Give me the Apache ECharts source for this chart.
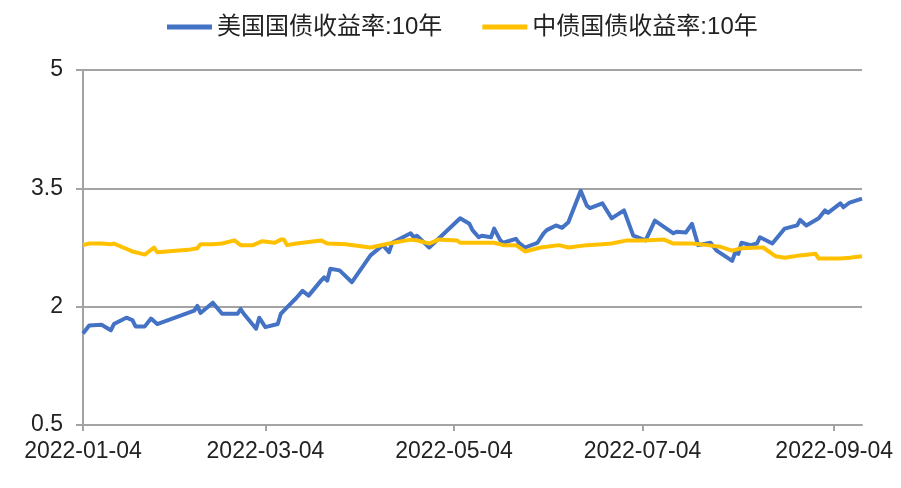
<!DOCTYPE html>
<html>
<head>
<meta charset="utf-8">
<script src="https://cdn.jsdelivr.net/npm/echarts@6/dist/echarts.min.js"></script>
<style>html,body{margin:0;padding:0;background:#fff}#c{width:901px;height:488px}</style>
</head>
<body>
<div id="c"></div>
<script>
var seriesNames = ['美国国债收益率:10年', '中债国债收益率:10年'];
var xTickLabels = ['2022-01-04', '2022-03-04', '2022-05-04', '2022-07-04', '2022-09-04'];
var yTicks = [0.5, 2, 3.5, 5];
var startDate = '2022-01-04';
var endDate = '2022-09-13';

var usDates = ['2022-01-04','2022-01-06','2022-01-10','2022-01-13','2022-01-14','2022-01-18','2022-01-20','2022-01-21','2022-01-24','2022-01-26','2022-01-28','2022-02-09','2022-02-10','2022-02-11','2022-02-15','2022-02-18','2022-02-23','2022-02-24','2022-02-25','2022-03-01','2022-03-02','2022-03-04','2022-03-08','2022-03-09','2022-03-11','2022-03-14','2022-03-16','2022-03-18','2022-03-22','2022-03-23','2022-03-24','2022-03-25','2022-03-28','2022-04-01','2022-04-07','2022-04-11','2022-04-13','2022-04-14','2022-04-20','2022-04-21','2022-04-22','2022-04-26','2022-04-29','2022-05-06','2022-05-09','2022-05-10','2022-05-12','2022-05-13','2022-05-16','2022-05-17','2022-05-19','2022-05-20','2022-05-24','2022-05-25','2022-05-27','2022-05-31','2022-06-02','2022-06-03','2022-06-06','2022-06-08','2022-06-10','2022-06-14','2022-06-16','2022-06-17','2022-06-21','2022-06-24','2022-06-28','2022-07-01','2022-07-05','2022-07-08','2022-07-14','2022-07-15','2022-07-18','2022-07-20','2022-07-22','2022-07-26','2022-07-28','2022-08-02','2022-08-03','2022-08-04','2022-08-05','2022-08-08','2022-08-10','2022-08-11','2022-08-15','2022-08-19','2022-08-23','2022-08-24','2022-08-26','2022-08-30','2022-09-01','2022-09-02','2022-09-06','2022-09-07','2022-09-09','2022-09-13'];
var usValues = [1.66,1.76,1.77,1.70,1.78,1.86,1.83,1.75,1.75,1.85,1.78,1.95,2.01,1.92,2.05,1.91,1.91,1.97,1.91,1.72,1.86,1.74,1.78,1.91,1.99,2.11,2.20,2.14,2.33,2.37,2.33,2.48,2.46,2.31,2.65,2.78,2.69,2.81,2.93,2.88,2.90,2.75,2.86,3.12,3.05,2.97,2.88,2.90,2.88,2.99,2.84,2.81,2.86,2.81,2.75,2.81,2.93,2.97,3.03,3.00,3.07,3.47,3.28,3.25,3.31,3.12,3.22,2.90,2.84,3.09,2.93,2.95,2.94,3.05,2.78,2.81,2.71,2.58,2.69,2.67,2.81,2.78,2.80,2.88,2.80,2.99,3.03,3.10,3.03,3.12,3.22,3.19,3.31,3.26,3.32,3.37];

var cnDates = ['2022-01-04','2022-01-06','2022-01-10','2022-01-13','2022-01-14','2022-01-17','2022-01-20','2022-01-24','2022-01-27','2022-01-28','2022-02-07','2022-02-10','2022-02-11','2022-02-15','2022-02-18','2022-02-22','2022-02-24','2022-02-28','2022-03-03','2022-03-07','2022-03-09','2022-03-10','2022-03-11','2022-03-14','2022-03-16','2022-03-22','2022-03-24','2022-03-30','2022-04-07','2022-04-13','2022-04-20','2022-04-22','2022-04-26','2022-04-29','2022-05-05','2022-05-06','2022-05-12','2022-05-17','2022-05-20','2022-05-24','2022-05-27','2022-06-01','2022-06-07','2022-06-10','2022-06-16','2022-06-21','2022-06-24','2022-06-29','2022-07-04','2022-07-11','2022-07-14','2022-07-20','2022-07-25','2022-07-29','2022-08-02','2022-08-05','2022-08-11','2022-08-12','2022-08-16','2022-08-19','2022-08-24','2022-08-29','2022-08-30','2022-09-02','2022-09-06','2022-09-09','2022-09-13'];
var cnValues = [2.78,2.80,2.80,2.79,2.80,2.75,2.70,2.66,2.75,2.69,2.72,2.74,2.79,2.79,2.80,2.84,2.78,2.78,2.83,2.81,2.85,2.85,2.78,2.80,2.81,2.84,2.80,2.79,2.75,2.80,2.85,2.84,2.80,2.85,2.84,2.81,2.81,2.81,2.78,2.78,2.70,2.75,2.78,2.75,2.78,2.79,2.80,2.84,2.84,2.85,2.80,2.80,2.78,2.76,2.71,2.74,2.75,2.75,2.64,2.62,2.65,2.67,2.61,2.61,2.61,2.62,2.64];

function fmt(d) {
  var m = d.getUTCMonth() + 1, day = d.getUTCDate();
  return d.getUTCFullYear() + '-' + (m < 10 ? '0' : '') + m + '-' + (day < 10 ? '0' : '') + day;
}
var categories = [];
(function () {
  var p = startDate.split('-'), q = endDate.split('-');
  var t = Date.UTC(+p[0], +p[1] - 1, +p[2]), e = Date.UTC(+q[0], +q[1] - 1, +q[2]);
  for (; t <= e; t += 86400000) categories.push(fmt(new Date(t)));
})();
function pairs(dates, vals) {
  return dates.map(function (d, i) { return [categories.indexOf(d), vals[i]]; });
}

var FONT = "'Liberation Sans', Arial, 'Noto Sans CJK SC', sans-serif";
var GRAY = '#a3a3a3';
var chart = echarts.init(document.getElementById('c'), null, {renderer: 'canvas'});
chart.setOption({
  animation: false,
  backgroundColor: '#fff',
  color: ['#4472C4', '#FFC000'],
  legend: {
    top: 10,
    left: 162,
    itemWidth: 45,
    itemHeight: 5,
    itemGap: 40,
    icon: 'rect',
    textStyle: {fontFamily: FONT, fontSize: 24, color: '#222'},
    data: seriesNames
  },
  grid: {left: 83, right: 39, top: 70, bottom: 63, containLabel: false},
  xAxis: {
    type: 'category',
    data: categories,
    boundaryGap: false,
    axisLine: {show: true, lineStyle: {color: GRAY, width: 2}},
    axisTick: {
      show: true, length: 6, lineStyle: {color: GRAY, width: 2},
      interval: function (i, v) { return xTickLabels.indexOf(v) >= 0; }
    },
    axisLabel: {
      interval: function (i, v) { return xTickLabels.indexOf(v) >= 0; },
      fontFamily: FONT, fontSize: 23, color: '#222', margin: 15
    },
    splitLine: {show: false}
  },
  yAxis: {
    type: 'value',
    min: yTicks[0],
    max: yTicks[yTicks.length - 1],
    interval: yTicks[1] - yTicks[0],
    axisLine: {show: true, lineStyle: {color: GRAY, width: 2}},
    axisTick: {show: true, length: 7, lineStyle: {color: GRAY, width: 2}},
    axisLabel: {fontFamily: FONT, fontSize: 23, color: '#222', margin: 20},
    splitLine: {show: true, lineStyle: {color: GRAY, width: 2}}
  },
  series: [
    {
      name: seriesNames[0], type: 'line', showSymbol: false, symbol: 'none',
      data: pairs(usDates, usValues),
      lineStyle: {width: 4, color: '#4472C4', join: 'round'}
    },
    {
      name: seriesNames[1], type: 'line', showSymbol: false, symbol: 'none',
      data: pairs(cnDates, cnValues),
      lineStyle: {width: 4, color: '#FFC000', join: 'round'}
    }
  ]
});
</script>
</body>
</html>
